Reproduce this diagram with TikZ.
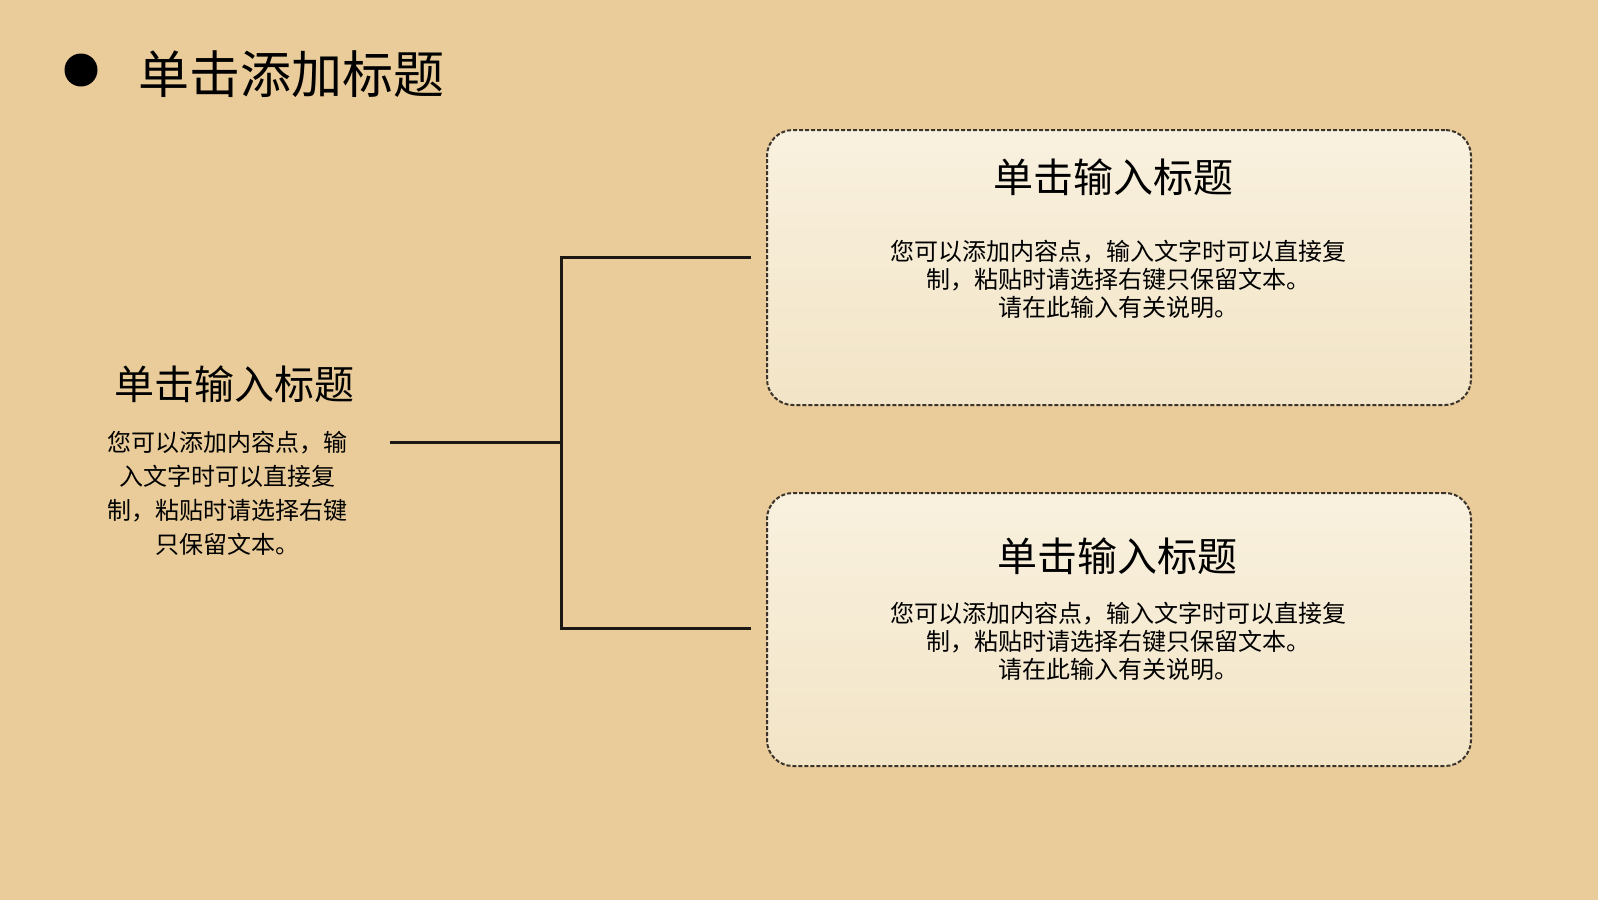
\documentclass[tikz,border=0pt]{standalone}
\usepackage{fontspec}
\usepackage{xcolor}
\newfontfamily\cjk{Noto Sans CJK SC}

\definecolor{paper}{RGB}{233,204,153}
\definecolor{cardtop}{RGB}{249,241,223}
\definecolor{cardbot}{RGB}{242,228,198}
\definecolor{inkline}{RGB}{28,24,20}
\definecolor{dashink}{RGB}{60,52,44}

\begin{document}
\begin{tikzpicture}[x=0.5pt,y=0.5pt,yscale=-1,
  cardbox/.style={draw=dashink, line width=1pt, dash pattern=on 2pt off 1pt,
    rounded corners=13pt, top color=cardtop, bottom color=cardbot,
    minimum width=352pt, inner sep=0pt},
  headtext/.style={inner sep=0.75pt, font=\cjk\fontsize{20}{24}\selectfont},
  bodytext/.style={inner sep=0.75pt, align=center, font=\cjk\fontsize{12}{14}\selectfont},
  branch/.style={draw=inkline, line width=1.5pt}]

%Background
\fill [paper] (0,0) rectangle (1598,900);
\useasboundingbox (0,0) rectangle (1598,900);

%Shape: Circle
\node [circle, fill=black, minimum size=16.5pt, inner sep=0pt] (dot) at (81,70) {};
% Text Node
\node [anchor=west, inner sep=0pt, font=\cjk\fontsize{25.5}{30}\selectfont] (title) at (138,74) {单击添加标题};

%Shape: Rounded Rectangle
\node [cardbox, minimum height=137.5pt] (topcard) at (1119,267.5) {};
%Shape: Rounded Rectangle
\node [cardbox, minimum height=136.5pt] (botcard) at (1119,629.5) {};

% Text Node
\node [headtext] (lefthead) at (234,384) {单击输入标题};
% Text Node
\node [bodytext, font=\cjk\fontsize{12}{17}\selectfont] (leftbody) at (227,493)
  {您可以添加内容点，输\\入文字时可以直接复\\制，粘贴时请选择右键\\只保留文本。};

% Text Node
\node [headtext] (tophead) at (1113,177) {单击输入标题};
% Text Node
\node [bodytext] (topbody) at (1118,279)
  {您可以添加内容点，输入文字时可以直接复\\制，粘贴时请选择右键只保留文本。\\请在此输入有关说明。};

% Text Node
\node [headtext] (bothead) at (1117,556) {单击输入标题};
% Text Node
\node [bodytext] (botbody) at (1118,641)
  {您可以添加内容点，输入文字时可以直接复\\制，粘贴时请选择右键只保留文本。\\请在此输入有关说明。};

%Connector
\coordinate (lstart) at (390,442);
\coordinate (fork) at (561,442);
\coordinate (topend) at ([xshift=-7.5pt]topcard.west |- 0,257);
\coordinate (botend) at ([xshift=-7.5pt]botcard.west |- 0,628);
\draw [branch] (lstart) -- (fork);
\draw [branch] (topend) -| (fork) |- (botend);
\end{tikzpicture}
\end{document}
